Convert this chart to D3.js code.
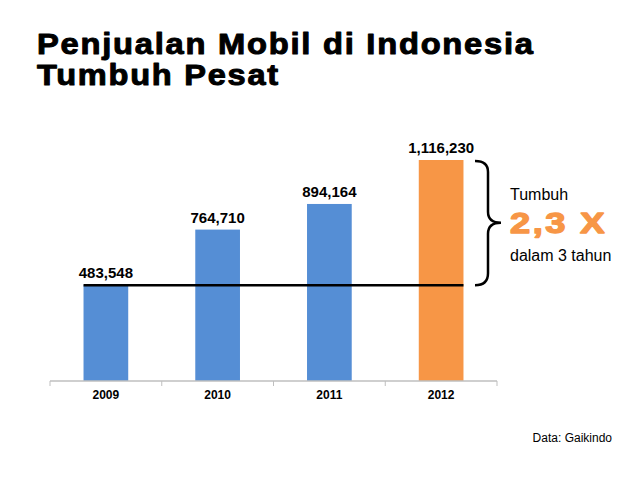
<!DOCTYPE html>
<html><head><meta charset="utf-8">
<script src="https://cdn.jsdelivr.net/npm/d3@7"></script>
<style>body{margin:0;background:#fff}svg{display:block}text{font-family:"Liberation Sans",Arial,sans-serif}</style>
</head><body><svg id="c" width="640" height="480"></svg>
<script>
const years = ["2009","2010","2011","2012"];
const sales = [483548, 764710, 894164, 1116230];
const barColors = ["#558ED5","#558ED5","#558ED5","#F79646"];
const titleLines = ["Penjualan Mobil di Indonesia","Tumbuh Pesat"];
const noteLines = ["Tumbuh","2,3 X","dalam 3 tahun"];
const source = "Data: Gaikindo";

const svg = d3.select("#c");
const x = d3.scaleBand().domain(years).range([50,497]).paddingInner(0.6).paddingOuter(0.3);
const y = d3.scaleLinear().domain([0, d3.max(sales)]).range([381,160]);
const fmt = d3.format(",");

// helper: horizontally stretch text to a target width
function stretch(sel, x0, y0, w){
  const n = sel.node();
  const nat = n.getComputedTextLength();
  const s = w / nat;
  sel.attr("x",0).attr("y",0).attr("transform",`translate(${x0},${y0}) scale(${s},1)`);
}

// title
const titleY = [54, 85], titleW = [498, 243];
titleLines.forEach((t,i)=>{
  const el = svg.append("text")
    .attr("font-size",30).attr("font-weight","bold").attr("fill","#000")
    .attr("letter-spacing",1.6)
    .attr("stroke","#000").attr("stroke-width",1).attr("stroke-linejoin","round").text(t);
  stretch(el, 37, titleY[i], titleW[i]);
});

// bars
svg.selectAll("rect.bar").data(sales).join("rect").attr("class","bar")
  .attr("x",(d,i)=>x(years[i])).attr("width",x.bandwidth())
  .attr("y",d=>y(d)).attr("height",d=>y(0)-y(d))
  .attr("fill",(d,i)=>barColors[i]);

// value labels
svg.selectAll("text.val").data(sales).join("text").attr("class","val")
  .attr("x",(d,i)=>x(years[i])+x.bandwidth()/2).attr("y",d=>y(d)-7)
  .attr("text-anchor","middle").attr("font-size",15).attr("font-weight","bold")
  .attr("fill","#000").text(d=>fmt(d));

// axis
const axis = svg.append("g").attr("transform","translate(0,381)");
axis.append("line").attr("x1",50).attr("x2",497).attr("stroke","#bfbfbf").attr("stroke-width",1.5);
const bounds = years.map(d=>x(d)-x.step()*x.paddingInner()/2);
bounds[0] = 50; bounds.push(497);
axis.selectAll("line.tk").data(bounds).join("line").attr("class","tk")
  .attr("x1",d=>d).attr("x2",d=>d).attr("y1",0).attr("y2",5).attr("stroke","#bfbfbf");
axis.selectAll("text").data(years).join("text")
  .attr("x",d=>x(d)+x.bandwidth()/2).attr("y",18).attr("text-anchor","middle")
  .attr("font-size",12).attr("font-weight","bold").attr("fill","#000").text(d=>d);

// baseline reference line at 2009 value
svg.append("line").attr("x1",x(years[0])).attr("x2",x(years[3])+x.bandwidth())
  .attr("y1",y(sales[0])).attr("y2",y(sales[0])).attr("stroke","#000").attr("stroke-width",2.5);

// brace
const yt = y(sales[3]), yb = y(sales[0]), ym = (yt+yb)/2;
svg.append("path").attr("fill","none").attr("stroke","#000").attr("stroke-width",2.5)
  .attr("d",`M475,${yt+1} Q488,${yt+1} 488,${yt+12} L488,${ym-11} Q488,${ym} 501,${ym} Q488,${ym} 488,${ym+11} L488,${yb-12} Q488,${yb} 475,${yb}`);

// note
svg.append("text").attr("x",510).attr("y",200).attr("font-size",16).attr("fill","#000").text(noteLines[0]);
const big = svg.append("text").attr("font-size",30).attr("font-weight","bold")
  .attr("fill","#F79646").attr("stroke","#F79646").attr("stroke-width",1.4).attr("stroke-linejoin","round")
  .attr("letter-spacing",2).text(noteLines[1]);
stretch(big, 510, 233, 97);
svg.append("text").attr("x",510).attr("y",261).attr("font-size",16).attr("fill","#000").text(noteLines[2]);

// source
svg.append("text").attr("x",612).attr("y",442).attr("text-anchor","end").attr("font-size",12).attr("fill","#000").text(source);
</script></body></html>
